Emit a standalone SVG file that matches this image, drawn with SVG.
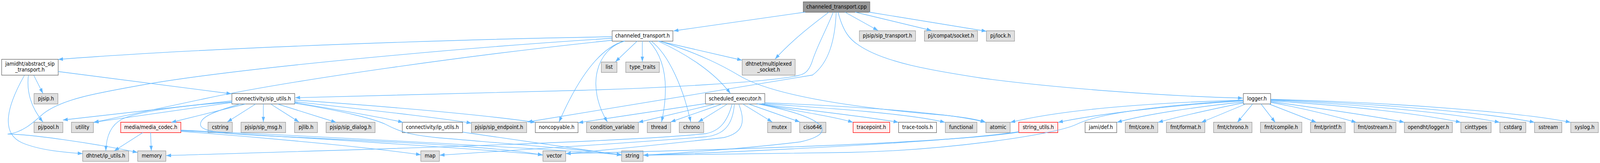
<svg xmlns="http://www.w3.org/2000/svg" width="4399" height="417" viewBox="0 0 4399 417" preserveAspectRatio="none" style="width:100%;height:100%">
<style>
rect.g{fill:#e0e0e0;stroke:#999999;stroke-width:1.33}
rect.w{fill:#ffffff;stroke:#666666;stroke-width:1.33}
rect.r{fill:#fff0f0;stroke:#ff0000;stroke-width:1.33}
rect.k{fill:#999999;stroke:#666666;stroke-width:1.33}
text{font-family:"DejaVu Sans","Liberation Sans",sans-serif;font-size:13.33px;fill:#000000;text-anchor:middle}
#edges path{fill:none;stroke:#63b8ff;stroke-width:1.33;marker-end:url(#ah)}
</style>
<defs>
<marker id="ah" markerUnits="userSpaceOnUse" markerWidth="14" markerHeight="10" refX="13.3" refY="4.67" orient="auto">
<path d="M0,0 L13.33,4.67 L0,9.33 z" fill="#63b8ff"/>
</marker>
</defs>
<rect x="0" y="0" width="4399" height="417" fill="#ffffff"/>

<g id="nodes">
<g id="n_cpp"><rect class="k" x="2208.5" y="4.67" width="183" height="26.67"/><text x="2300" y="22">channeled_transport.cpp</text></g>
<g id="n_chh"><rect class="w" x="1683" y="78.67" width="167" height="26.67"/><text x="1766.5" y="96">channeled_transport.h</text></g>
<g id="n_siptr"><rect class="g" x="2362.8" y="78.67" width="154.3" height="26.67"/><text x="2440" y="96">pjsip/sip_transport.h</text></g>
<g id="n_compat"><rect class="g" x="2541.6" y="78.67" width="146" height="26.67"/><text x="2614.6" y="96">pj/compat/socket.h</text></g>
<g id="n_lock"><rect class="g" x="2712.1" y="78.67" width="77.2" height="26.67"/><text x="2750.7" y="96">pj/lock.h</text></g>

<g id="n_abs"><rect class="w" x="4.6" y="151.67" width="155.4" height="40.67"/><text x="82.3" y="168">jamidht/abstract_sip</text><text x="82.3" y="182.7">_transport.h</text></g>
<g id="n_list"><rect class="g" x="1653.3" y="158.67" width="43" height="26.67"/><text x="1674.8" y="176">list</text></g>
<g id="n_tt"><rect class="g" x="1720.4" y="158.67" width="92.4" height="26.67"/><text x="1766.6" y="176">type_traits</text></g>
<g id="n_mux"><rect class="g" x="2040.5" y="151.67" width="145.7" height="40.67"/><text x="2113.3" y="168">dhtnet/multiplexed</text><text x="2113.3" y="182.7">_socket.h</text></g>

<g id="n_pjsip"><rect class="g" x="93.6" y="239.33" width="65.7" height="26.67"/><text x="126.5" y="256.7">pjsip.h</text></g>
<g id="n_siputils"><rect class="w" x="637.5" y="239.33" width="172.8" height="26.67"/><text x="723.9" y="256.7">connectivity/sip_utils.h</text></g>
<g id="n_sched"><rect class="w" x="1939.5" y="239.33" width="163.2" height="26.67"/><text x="2021.1" y="256.7">scheduled_executor.h</text></g>
<g id="n_logger"><rect class="w" x="3418.4" y="239.33" width="75" height="26.67"/><text x="3455.9" y="256.7">logger.h</text></g>

<g id="n_pool"><rect class="g" x="93.6" y="312.67" width="79.2" height="26.67"/><text x="133.2" y="330">pj/pool.h</text></g>
<g id="n_utility"><rect class="g" x="196.4" y="312.67" width="60.4" height="26.67"/><text x="226.6" y="330">utility</text></g>
<g id="n_codec"><rect class="r" x="331.8" y="312.67" width="165.4" height="26.67"/><text x="414.5" y="330">media/media_codec.h</text></g>
<g id="n_cstring"><rect class="g" x="571.9" y="312.67" width="66.8" height="26.67"/><text x="605.3" y="330">cstring</text></g>
<g id="n_sipmsg"><rect class="g" x="662.7" y="312.67" width="122.6" height="26.67"/><text x="724" y="330">pjsip/sip_msg.h</text></g>
<g id="n_pjlib"><rect class="g" x="809.8" y="312.67" width="62.9" height="26.67"/><text x="841.3" y="330">pjlib.h</text></g>
<g id="n_dialog"><rect class="g" x="896.5" y="312.67" width="134.7" height="26.67"/><text x="963.9" y="330">pjsip/sip_dialog.h</text></g>
<g id="n_ciputils"><rect class="w" x="1106" y="312.67" width="165.8" height="26.67"/><text x="1188.9" y="330">connectivity/ip_utils.h</text></g>
<g id="n_endpoint"><rect class="g" x="1296" y="312.67" width="152" height="26.67"/><text x="1372" y="330">pjsip/sip_endpoint.h</text></g>
<g id="n_noncopy"><rect class="w" x="1471.8" y="312.67" width="117.4" height="26.67"/><text x="1530.5" y="330">noncopyable.h</text></g>
<g id="n_condvar"><rect class="g" x="1612.6" y="312.67" width="142.6" height="26.67"/><text x="1683.9" y="330">condition_variable</text></g>
<g id="n_thread"><rect class="g" x="1779.6" y="312.67" width="64.4" height="26.67"/><text x="1811.8" y="330">thread</text></g>
<g id="n_chrono"><rect class="g" x="1867.6" y="312.67" width="67.2" height="26.67"/><text x="1901.2" y="330">chrono</text></g>
<g id="n_mutex"><rect class="g" x="2110.4" y="312.67" width="64.6" height="26.67"/><text x="2142.7" y="330">mutex</text></g>
<g id="n_ciso"><rect class="g" x="2198.5" y="312.67" width="72.3" height="26.67"/><text x="2234.7" y="330">ciso646</text></g>
<g id="n_tracepoint"><rect class="r" x="2345.5" y="312.67" width="100.6" height="26.67"/><text x="2395.8" y="330">tracepoint.h</text></g>
<g id="n_tracetools"><rect class="w" x="2470.6" y="312.67" width="104.2" height="26.67"/><text x="2522.7" y="330">trace-tools.h</text></g>
<g id="n_functional"><rect class="g" x="2599.1" y="312.67" width="86.8" height="26.67"/><text x="2642.5" y="330">functional</text></g>
<g id="n_atomic"><rect class="g" x="2710.5" y="312.67" width="66.8" height="26.67"/><text x="2743.9" y="330">atomic</text></g>
<g id="n_strutils"><rect class="r" x="2800.9" y="312.67" width="107.3" height="26.67"/><text x="2854.6" y="330">string_utils.h</text></g>
<g id="n_def"><rect class="w" x="2983.3" y="312.67" width="87" height="26.67"/><text x="3026.8" y="330">jami/def.h</text></g>
<g id="n_fmtcore"><rect class="g" x="3093.7" y="312.67" width="89.5" height="26.67"/><text x="3138.5" y="330">fmt/core.h</text></g>
<g id="n_fmtformat"><rect class="g" x="3206.9" y="312.67" width="105.7" height="26.67"/><text x="3259.8" y="330">fmt/format.h</text></g>
<g id="n_fmtchrono"><rect class="g" x="3336.5" y="312.67" width="105.7" height="26.67"/><text x="3389.4" y="330">fmt/chrono.h</text></g>
<g id="n_fmtcompile"><rect class="g" x="3465.5" y="312.67" width="113.7" height="26.67"/><text x="3522.4" y="330">fmt/compile.h</text></g>
<g id="n_fmtprintf"><rect class="g" x="3603" y="312.67" width="95.5" height="26.67"/><text x="3650.8" y="330">fmt/printf.h</text></g>
<g id="n_fmtostream"><rect class="g" x="3723" y="312.67" width="115" height="26.67"/><text x="3780.5" y="330">fmt/ostream.h</text></g>
<g id="n_odlogger"><rect class="g" x="3861.2" y="312.67" width="131.9" height="26.67"/><text x="3927.2" y="330">opendht/logger.h</text></g>
<g id="n_cinttypes"><rect class="g" x="4016.3" y="312.67" width="83.4" height="26.67"/><text x="4058" y="330">cinttypes</text></g>
<g id="n_cstdarg"><rect class="g" x="4123.6" y="312.67" width="71.5" height="26.67"/><text x="4159.4" y="330">cstdarg</text></g>
<g id="n_sstream"><rect class="g" x="4219" y="312.67" width="75.1" height="26.67"/><text x="4256.6" y="330">sstream</text></g>
<g id="n_syslog"><rect class="g" x="4318.6" y="312.67" width="75.8" height="26.67"/><text x="4356.5" y="330">syslog.h</text></g>

<g id="n_dipu"><rect class="g" x="227.2" y="386" width="126.6" height="26.67"/><text x="290.5" y="403.3">dhtnet/ip_utils.h</text></g>
<g id="n_memory"><rect class="g" x="378.5" y="386" width="77.5" height="26.67"/><text x="417.3" y="403.3">memory</text></g>
<g id="n_map"><rect class="g" x="1156.9" y="386" width="51.2" height="26.67"/><text x="1182.5" y="403.3">map</text></g>
<g id="n_vector"><rect class="g" x="1492.7" y="386" width="62.6" height="26.67"/><text x="1524" y="403.3">vector</text></g>
<g id="n_string"><rect class="g" x="1709" y="386" width="59.2" height="26.67"/><text x="1738.6" y="403.3">string</text></g>
</g>

<g id="edges">
<path d="M2214,31 L1852,79"/>
<path d="M2279,31 C2245,55 2180,100 2131,151"/>
<path d="M2291,31 C2270,80 2245,120 2232,160 C2222,185 2210,190 2195,193 C2120,210 1800,226 1600,231 L812,250"/>
<path d="M2299,31 C2296,100 2280,160 2234,192 L1450,312"/>
<path d="M2304,31 C2318,80 2335,100 2360,115 C2430,160 2560,180 2700,200 C2900,225 3200,246 3417,251"/>
<path d="M2323,31 L2414,78"/>
<path d="M2351,31 L2561,78"/>
<path d="M2389,31 L2712,80"/>

<path d="M1683,94 C1300,100 600,120 160,152"/>
<path d="M1683,98 C1300,120 700,170 418,213 C250,240 170,255 120,290 C90,315 60,340 21,343 C80,343 250,365 378,390"/>
<path d="M1683,103 C1300,140 800,205 560,253 L258,313"/>
<path d="M1752,105 L1692,158"/>
<path d="M1766,105 L1766,158"/>
<path d="M1716,105 C1640,125 1580,220 1537,312"/>
<path d="M1718,105 C1640,125 1610,220 1670,312"/>
<path d="M1784,105 C1830,150 1840,220 1819,312"/>
<path d="M1790,105 C1840,140 1880,230 1899,312"/>
<path d="M1809,105 C1880,135 1960,180 2008,239"/>
<path d="M1811,105 L2040,154"/>
<path d="M1817,106 C1930,140 1990,170 2030,192 C2130,250 2400,280 2600,295 C2650,300 2690,306 2710,313"/>

<path d="M160,183 L636,240"/>
<path d="M93,193 L118,239"/>
<path d="M78,193 C72,240 90,280 118,312"/>
<path d="M67,193 C20,270 0,340 60,365 C110,385 180,390 227,393"/>

<path d="M638,258 L173,307"/>
<path d="M638,262 L257,313"/>
<path d="M675,266 L471,313"/>
<path d="M638,261 C500,270 380,285 335,305 C305,320 292,350 291,386"/>
<path d="M660,266 C590,285 545,300 552,322 C560,345 700,345 900,355 C1200,368 1400,380 1492,397"/>
<path d="M809,264 C950,285 1030,305 1060,318 C1100,338 1130,345 1200,352 C1400,368 1600,382 1709,396"/>
<path d="M810,256 C1000,268 1300,290 1472,313"/>
<path d="M810,260 C1000,280 1200,300 1296,315"/>
<path d="M810,262 C950,285 1050,300 1108,313"/>
<path d="M703,266 L625,312"/>
<path d="M724,266 L724,312"/>
<path d="M744,266 L822,312"/>
<path d="M763,266 L924,313"/>

<path d="M393,339 L314,386"/>
<path d="M414,339 L416,386"/>
<path d="M497,336 C700,350 1000,375 1157,396"/>
<path d="M497,334 C800,350 1300,380 1492,396"/>
<path d="M497,333 C900,350 1500,380 1709,396"/>

<path d="M1272,338 L1709,397"/>

<path d="M1940,265 L1590,314"/>
<path d="M1966,266 L1755,313"/>
<path d="M1985,266 L1844,312"/>
<path d="M2000,266 L1920,312"/>
<path d="M2013,266 C2000,310 1980,335 1940,342 C1700,365 900,385 457,398"/>
<path d="M2019,266 C2015,320 1990,345 1940,350 C1700,368 1400,385 1209,397"/>
<path d="M2031,266 C2050,310 2045,340 1990,352 C1800,372 1650,385 1556,393"/>
<path d="M2084,266 C2270,300 2310,340 2200,363 C2050,380 1850,393 1769,397"/>
<path d="M2042,266 L2123,312"/>
<path d="M2058,266 L2199,312"/>
<path d="M2080,265 C2200,285 2300,300 2345,313"/>
<path d="M2090,266 C2200,280 2400,300 2470,313"/>
<path d="M2095,265 C2250,275 2500,290 2598,313"/>
<path d="M2102,263 C2300,270 2600,285 2709,313"/>

<path d="M2801,337 C2600,365 2000,390 1769,397"/>
<path d="M2801,338 C2600,368 1900,385 1556,393"/>

<path d="M3418,256 C3100,265 2900,285 2778,313"/>
<path d="M3418,258 C3200,270 3000,295 2909,313"/>
<path d="M3418,257 C3200,268 3020,290 2960,318 C2900,345 2600,385 2330,390 C2100,394 1900,396 1769,397"/>
<path d="M3418,261 C3300,272 3150,292 3071,313"/>
<path d="M3419,263 C3350,276 3250,296 3184,313"/>
<path d="M3425,266 L3303,313"/>
<path d="M3444,266 L3402,313"/>
<path d="M3467,266 L3506,313"/>
<path d="M3489,266 L3619,313"/>
<path d="M3494,262 C3600,280 3680,300 3729,313"/>
<path d="M3494,260 C3650,280 3800,300 3861,313"/>
<path d="M3494,258 C3700,270 3900,290 4016,313"/>
<path d="M3494,256 C3750,268 4000,290 4123,313"/>
<path d="M3494,255 C3800,265 4100,290 4219,313"/>
<path d="M3494,254 C3850,262 4200,290 4318,313"/>
</g>
</svg>
